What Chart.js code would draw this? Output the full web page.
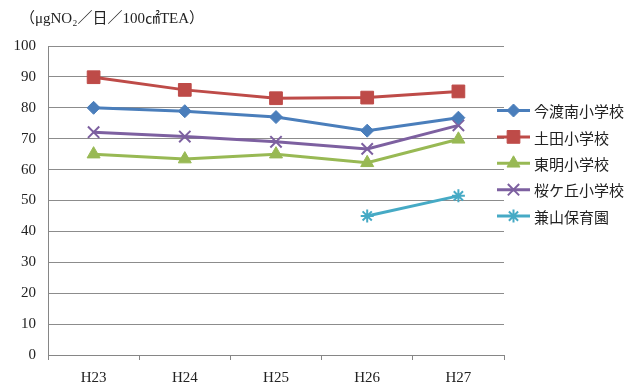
<!DOCTYPE html>
<html>
<head>
<meta charset="utf-8">
<script src="https://cdn.jsdelivr.net/npm/chart.js@4"></script>
<style>
  html, body { margin: 0; padding: 0; background: #fff; }
  #wrap { width: 634px; height: 382px; position: relative; }
</style>
</head>
<body>
<div id="wrap"><canvas id="c" width="634" height="382"></canvas></div>
<script>
// 年度ごとの二酸化窒素濃度（μgNO2/日/100cm2TEA）
const years = ['H23', 'H24', 'H25', 'H26', 'H27'];
const imawatariMinami = [80.0, 78.9, 77.0, 72.6, 76.8];
const tsuchida = [89.9, 85.8, 83.1, 83.3, 85.3];
const toumei = [65.0, 63.4, 65.0, 62.2, 69.8];
const sakuragaoka = [72.1, 70.7, 69.0, 66.7, 74.3];
const kaneyamaHoiku = [null, null, null, 45.0, 51.5];
const yTicks = [0, 10, 20, 30, 40, 50, 60, 70, 80, 90, 100];
const unitLabel = '（μgNO₂／日／100㎠TEA）';

const seriesNames = ['今渡南小学校', '土田小学校', '東明小学校', '桜ケ丘小学校', '兼山保育園'];
const seriesData = [imawatariMinami, tsuchida, toumei, sakuragaoka, kaneyamaHoiku];
const seriesColors = ['#4A7EBB', '#BE4B48', '#98B954', '#7D60A0', '#46AAC5'];
const seriesPoints = [
  { style: 'rectRot', radius: 6.5, border: 1 },
  { style: 'rect', radius: 9, border: 1 },
  { style: 'triangle', radius: 7.5, border: 1 },
  { style: 'crossRot', radius: 8, border: 2 },
  { style: 'star', radius: 6.5, border: 2 }
];

const serifFont = '"Liberation Serif", "Noto Sans CJK JP", serif';
const sansFont = '"Noto Sans CJK JP", sans-serif';

const datasets = seriesNames.map((name, i) => ({
  label: name,
  data: seriesData[i],
  borderColor: seriesColors[i],
  backgroundColor: seriesColors[i],
  borderWidth: 3,
  tension: 0,
  pointStyle: seriesPoints[i].style,
  pointRadius: seriesPoints[i].radius,
  pointHoverRadius: seriesPoints[i].radius,
  pointBorderWidth: seriesPoints[i].border,
  pointBackgroundColor: seriesColors[i],
  pointBorderColor: seriesColors[i]
}));

// 単位ラベルと右側の凡例を描く
const decorations = {
  id: 'decorations',
  afterDraw(chart) {
    const ctx = chart.ctx;
    ctx.save();
    ctx.fillStyle = '#222';
    ctx.font = '15px ' + serifFont;
    ctx.textAlign = 'left';
    ctx.textBaseline = 'middle';
    ctx.fillText(unitLabel, 20, 19);

    const x0 = 497, x1 = 530, top = 110.5, step = 26.4;
    ctx.font = '15px ' + sansFont;
    seriesNames.forEach((name, i) => {
      const y = top + i * step;
      ctx.strokeStyle = seriesColors[i];
      ctx.fillStyle = seriesColors[i];
      ctx.lineWidth = 3;
      ctx.beginPath();
      ctx.moveTo(x0, y);
      ctx.lineTo(x1, y);
      ctx.stroke();
      ctx.lineWidth = seriesPoints[i].border;
      Chart.helpers.drawPoint(ctx, {
        pointStyle: seriesPoints[i].style,
        radius: seriesPoints[i].radius,
        rotation: 0,
        borderWidth: seriesPoints[i].border
      }, (x0 + x1) / 2, y);
      ctx.fillStyle = '#222';
      ctx.fillText(name, 534, y + 1);
    });
    ctx.restore();
  }
};

new Chart(document.getElementById('c'), {
  type: 'line',
  data: { labels: years, datasets },
  plugins: [decorations],
  options: {
    responsive: false,
    animation: false,
    layout: { padding: { left: 0, right: 130, top: 46, bottom: 0 } },
    plugins: { legend: { display: false }, tooltip: { enabled: false } },
    scales: {
      x: {
        offset: true,
        grid: {
          display: true,
          offset: true,
          drawOnChartArea: false,
          drawTicks: true,
          tickLength: 5,
          color: '#868686'
        },
        border: { color: '#868686', width: 1 },
        ticks: { color: '#222', font: { family: serifFont, size: 15 }, padding: 9 },
        afterFit(scale) { scale.height = 27; }
      },
      y: {
        min: 0,
        max: 100,
        afterBuildTicks(scale) { scale.ticks = yTicks.map(v => ({ value: v })); },
        grid: { color: '#8c8c8c', drawTicks: false },
        border: { color: '#868686', width: 1 },
        ticks: { color: '#222', font: { family: serifFont, size: 15 }, padding: 12 },
        afterFit(scale) { scale.width = 48; }
      }
    }
  }
});
</script>
</body>
</html>
